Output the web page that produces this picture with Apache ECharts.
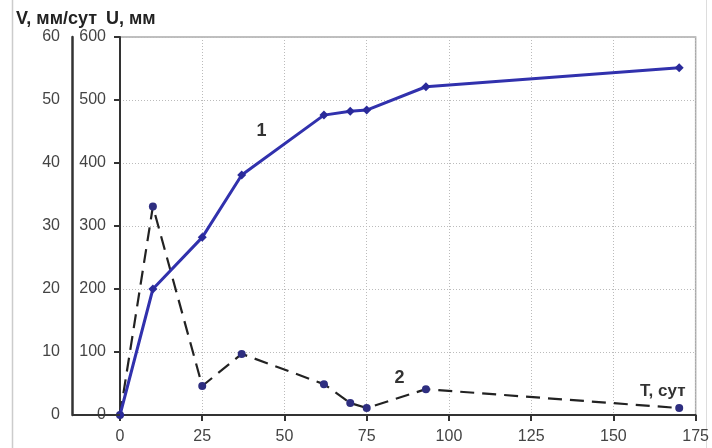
<!DOCTYPE html>
<html>
<head>
<meta charset="utf-8">
<script src="https://cdn.jsdelivr.net/npm/echarts@6/dist/echarts.min.js"></script>
<style>
  html, body { margin: 0; padding: 0; background: #fff; }
  #chart { width: 712px; height: 448px; }
</style>
</head>
<body>
<div id="chart"></div>
<script>
// T, сут
const tDays = [0, 10, 25, 37, 62, 70, 75, 93, 170]
// кривая 1: U, мм
const uValues = [0, 200, 282, 381, 476, 482, 484, 521, 551]
// кривая 2: V, мм/сут
const vValues = [0, 33.1, 4.6, 9.7, 4.9, 1.9, 1.1, 4.1, 1.1]

const xTicks = [0, 25, 50, 75, 100, 125, 150, 175]
const uTicks = [0, 100, 200, 300, 400, 500, 600]
const vTicks = [0, 10, 20, 30, 40, 50, 60]

// подписи на поле графика (в координатах T / U)
const notes = [
  { text: '1', at: [43, 450], size: 18 },
  { text: '2', at: [85, 59], size: 18 },
  { text: 'T, сут', at: [165, 37], size: 17 }
]

const FONT = '"Liberation Sans", Arial, sans-serif'
const axisColor = '#333'

const chart = echarts.init(document.getElementById('chart'))

const option = {
  animation: false,
  backgroundColor: '#fff',
  textStyle: { fontFamily: FONT },
  title: [
    {
      text: 'V, мм/сут',
      left: 11, top: 5,
      textStyle: { fontFamily: FONT, fontSize: 18, fontWeight: 'bold', color: '#222' }
    },
    {
      text: 'U, мм',
      left: 101, top: 5,
      textStyle: { fontFamily: FONT, fontSize: 18, fontWeight: 'bold', color: '#222' }
    }
  ],
  grid: {
    left: 120, right: 15, top: 37, bottom: 33,
    show: true,
    borderColor: '#aaa',
    borderWidth: 1.5
  },
  xAxis: {
    type: 'value',
    min: xTicks[0],
    max: xTicks[xTicks.length - 1],
    interval: 25,
    axisLine: { lineStyle: { color: axisColor, width: 2 } },
    axisTick: { show: true, length: 6, lineStyle: { color: axisColor, width: 2 } },
    axisLabel: { fontSize: 16, color: '#444', margin: 14, fontFamily: FONT,
      showMaxLabel: true },
    splitLine: { show: true, lineStyle: { color: '#bbb', type: [1, 2], width: 1 } }
  },
  yAxis: [
    {
      type: 'value',
      min: uTicks[0],
      max: uTicks[uTicks.length - 1],
      interval: 100,
      position: 'left',
      axisLine: { show: true, lineStyle: { color: axisColor, width: 2 } },
      axisTick: { show: true, length: 6, lineStyle: { color: axisColor, width: 2 } },
      axisLabel: { fontSize: 16, color: '#444', margin: 14, fontFamily: FONT },
      splitLine: { show: true, lineStyle: { color: '#bbb', type: [1, 2], width: 1 } }
    },
    {
      type: 'value',
      min: vTicks[0],
      max: vTicks[vTicks.length - 1],
      interval: 10,
      position: 'left',
      offset: 48,
      axisLine: { show: true, lineStyle: { color: axisColor, width: 2.5 } },
      axisTick: { show: false },
      axisLabel: { fontSize: 16, color: '#444', margin: 12, fontFamily: FONT },
      splitLine: { show: false }
    }
  ],
  series: [
    {
      name: 'U',
      type: 'line',
      yAxisIndex: 0,
      data: tDays.map((t, i) => [t, uValues[i]]),
      symbol: 'diamond',
      symbolSize: 9,
      lineStyle: { color: '#3131ad', width: 3 },
      itemStyle: { color: '#2a2a9a' },
      z: 3
    },
    {
      name: 'V',
      type: 'line',
      yAxisIndex: 1,
      data: tDays.map((t, i) => [t, vValues[i]]),
      symbol: 'circle',
      symbolSize: 8,
      lineStyle: { color: '#222', width: 2.2, type: [14, 8] },
      itemStyle: { color: '#2e2e80' },
      z: 2
    }
  ]
}

chart.setOption(option)

// продолжение оси T влево до оси V, рамка и подписи
const p0 = chart.convertToPixel({ xAxisIndex: 0, yAxisIndex: 0 }, [0, 0])
const graphics = [
  {
    type: 'line',
    shape: { x1: p0[0] - 48, y1: p0[1], x2: p0[0], y2: p0[1] },
    style: { stroke: axisColor, lineWidth: 2 },
    z: 10
  },
  {
    type: 'line',
    shape: { x1: 12.5, y1: 0, x2: 12.5, y2: 448 },
    style: { stroke: '#ccc', lineWidth: 1.5 }
  },
  {
    type: 'line',
    shape: { x1: 706.5, y1: 0, x2: 706.5, y2: 448 },
    style: { stroke: '#ddd', lineWidth: 1 }
  }
]
notes.forEach(n => {
  const p = chart.convertToPixel({ xAxisIndex: 0, yAxisIndex: 0 }, n.at)
  graphics.push({
    type: 'text',
    x: p[0], y: p[1],
    style: {
      text: n.text,
      fontFamily: FONT,
      fontSize: n.size,
      fontWeight: 'bold',
      fill: '#333',
      align: 'center',
      verticalAlign: 'middle'
    },
    z: 10
  })
})
chart.setOption({ graphic: graphics })
</script>
</body>
</html>
